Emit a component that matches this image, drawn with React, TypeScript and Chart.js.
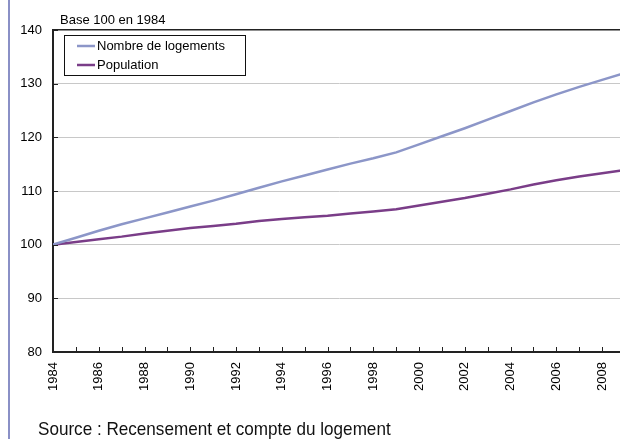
import React, { useEffect, useRef } from "react";
import { Chart, registerables } from "chart.js";

Chart.register(...registerables);

const years = [1984, 1985, 1986, 1987, 1988, 1989, 1990, 1991, 1992, 1993, 1994, 1995, 1996, 1997, 1998, 1999, 2000, 2001, 2002, 2003, 2004, 2005, 2006, 2007, 2008, 2009];
const logements = [100, 101.3, 102.6, 103.8, 104.9, 106.0, 107.1, 108.2, 109.4, 110.6, 111.8, 112.9, 114.0, 115.1, 116.1, 117.2, 118.7, 120.2, 121.7, 123.3, 124.9, 126.5, 128.0, 129.4, 130.7, 132.0];
const population = [100, 100.5, 101.0, 101.5, 102.1, 102.6, 103.1, 103.5, 103.9, 104.4, 104.8, 105.1, 105.4, 105.8, 106.2, 106.6, 107.3, 108.0, 108.7, 109.5, 110.3, 111.2, 112.0, 112.7, 113.3, 113.9];
const seriesLabels = ["Nombre de logements", "Population"];
const seriesColors = ["#8c96c8", "#7a3d88"];
const yTicks = [80, 90, 100, 110, 120, 130, 140];
const subtitle = "Base 100 en 1984";
const sourceText = "Source : Recensement et compte du logement";

const FONT = "'Liberation Sans', Arial, sans-serif";

const framePlugin = {
  id: "frame",
  afterDatasetsDraw(chart: any) {
    const ctx = chart.ctx;
    const x = chart.scales.x;
    const y = chart.scales.y;
    const area = chart.chartArea;
    ctx.save();
    ctx.strokeStyle = "#222";
    ctx.lineWidth = 1;
    ctx.beginPath();
    for (const yr of years) {
      const px = Math.round(x.getPixelForValue(yr)) + 0.5;
      ctx.moveTo(px, area.bottom);
      ctx.lineTo(px, area.bottom - 5);
    }
    for (const v of yTicks) {
      const py = Math.round(y.getPixelForValue(v)) + 0.5;
      ctx.moveTo(area.left, py);
      ctx.lineTo(area.left + 5, py);
    }
    ctx.stroke();

    // legend
    const lx = 64.5, ly = 35.5, lw = 181, lh = 40;
    ctx.fillStyle = "#fff";
    ctx.fillRect(lx, ly, lw, lh);
    ctx.strokeStyle = "#111";
    ctx.lineWidth = 1;
    ctx.strokeRect(lx, ly, lw, lh);
    chart.data.datasets.forEach((ds: any, i: number) => {
      const cy = 46 + i * 19;
      ctx.strokeStyle = ds.borderColor;
      ctx.lineWidth = 2.5;
      ctx.beginPath();
      ctx.moveTo(77, cy);
      ctx.lineTo(95, cy);
      ctx.stroke();
      ctx.fillStyle = "#000";
      ctx.font = `13px ${FONT}`;
      ctx.textBaseline = "middle";
      ctx.textAlign = "left";
      ctx.fillText(ds.label, 97, cy);
    });
    ctx.restore();
  },
};

export default function App() {
  const ref = useRef<HTMLCanvasElement>(null);
  useEffect(() => {
    if (!ref.current) return;
    const chart = new Chart(ref.current, {
      type: "line",
      data: {
        datasets: [logements, population].map((vals, i) => ({
          label: seriesLabels[i],
          data: years.map((yr, j) => ({ x: yr, y: vals[j] })),
          borderColor: seriesColors[i],
          backgroundColor: seriesColors[i],
          borderWidth: 2.5,
          pointRadius: 0,
          tension: 0,
          fill: false,
        })),
      },
      options: {
        responsive: false,
        animation: false,
        devicePixelRatio: 1,
        layout: { padding: { top: 30, left: 0, right: 0, bottom: 0 } },
        plugins: { legend: { display: false }, tooltip: { enabled: false } },
        scales: {
          x: {
            type: "linear",
            min: years[0],
            max: years[years.length - 1],
            afterFit: (s: any) => {
              s.height = 87;
              s.paddingLeft = 0;
              s.paddingRight = 0;
            },
            grid: { display: false, drawTicks: false },
            border: { display: true, color: "#222", width: 2 },
            ticks: {
              stepSize: 1,
              autoSkip: false,
              maxRotation: 90,
              minRotation: 90,
              padding: 10,
              color: "#000",
              font: { family: FONT, size: 13 },
              callback: (v: any) => (Number(v) % 2 === 0 ? String(v) : ""),
            },
          },
          y: {
            min: yTicks[0],
            max: yTicks[yTicks.length - 1],
            afterFit: (s: any) => {
              s.width = 53;
            },
            afterBuildTicks: (s: any) => {
              s.ticks = yTicks.map((v) => ({ value: v }));
            },
            grid: {
              drawTicks: false,
              color: (c: any) => (c.tick && c.tick.value === 140 ? "#222" : "#c8c8c8"),
              lineWidth: (c: any) => (c.tick && c.tick.value === 140 ? 1.5 : 1),
            },
            border: { display: true, color: "#222", width: 2 },
            ticks: {
              padding: 11,
              color: "#000",
              font: { family: FONT, size: 13 },
            },
          },
        },
      },
      plugins: [framePlugin],
    } as any);
    return () => chart.destroy();
  }, []);

  return (
    <div style={{ position: "absolute", left: 0, top: 0, width: 620, height: 439, overflow: "hidden", background: "#fff" }}>
      <canvas ref={ref} width={625} height={439} style={{ position: "absolute", left: 0, top: 0 }} />
      <div style={{ position: "absolute", left: 7.5, top: 0, width: 2, height: 439, background: "#8a90c6" }} />
      <div style={{ position: "absolute", left: 60, top: 12, font: `13px ${FONT}`, color: "#000", whiteSpace: "nowrap" }}>{subtitle}</div>
      <div style={{ position: "absolute", left: 38, top: 418, font: `19px ${FONT}`, lineHeight: "22px", color: "#111", whiteSpace: "nowrap", transform: "scaleX(0.9)", transformOrigin: "0 0" }}>{sourceText}</div>
    </div>
  );
}
